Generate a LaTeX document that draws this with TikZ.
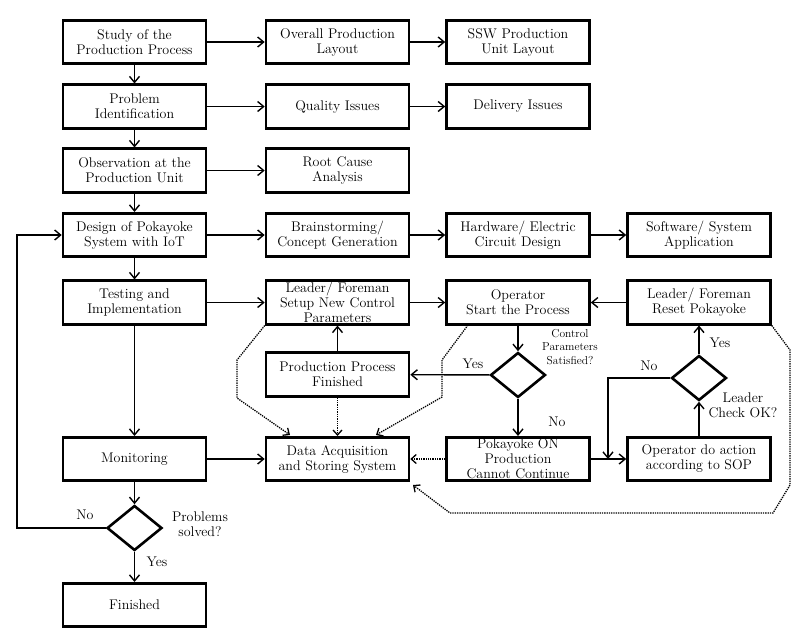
\documentclass[tikz,border=0pt]{standalone}
\usetikzlibrary{arrows.meta,shapes.geometric}
\begin{document}
\begin{tikzpicture}[x=1pt,y=-1pt,
 box/.style={draw, line width=2.6pt, minimum width=143pt, minimum height=43.5pt, align=center, inner sep=0.5pt, font=\fontsize{14}{15}\selectfont},
 dia/.style={draw, diamond, line width=2.6pt, minimum width=55pt, minimum height=45pt, inner sep=0pt},
 arr/.style={line width=1.4pt, -{Straight Barb[length=6pt,width=10pt]}},
 dot/.style={line width=1.3pt, densely dotted, -{Straight Barb[length=5pt,width=9pt]}},
 lab/.style={font=\fontsize{14}{15}\selectfont, inner sep=0pt, align=center},
 slab/.style={font=\fontsize{11.5}{13.5}\selectfont, inner sep=0pt, align=center}]
\useasboundingbox (0,0) rectangle (804,643);
% boxes
\node[box] (s1) at (134.5,42) {Study of the\\Production Process};
\node[box] (opl) at (337.5,42) {Overall Production\\Layout};
\node[box] (ssw) at (518,42) {SSW Production\\Unit Layout};
\node[box] (pi) at (134.5,106.5) {Problem\\Identification};
\node[box] (qi) at (337.5,106.5) {Quality Issues};
\node[box] (di) at (518,106.5) {Delivery Issues};
\node[box] (obs) at (134.5,170.5) {Observation at the\\Production Unit};
\node[box] (rca) at (337.5,170.5) {Root Cause\\Analysis};
\node[box] (des) at (134.5,235) {Design of Pokayoke\\System with IoT};
\node[box] (bs) at (337.5,235) {Brainstorming/\\Concept Generation};
\node[box] (hw) at (518,235) {Hardware/ Electric\\Circuit Design};
\node[box] (sw) at (699,235) {Software/ System\\Application};
\node[box] (tst) at (134.5,302.5) {Testing and\\Implementation};
\node[box] (ls) at (337.5,302.5) {Leader/ Foreman\\Setup New Control\\Parameters};
\node[box] (os) at (518,302.5) {Operator\\Start the Process};
\node[box] (lr) at (699,302.5) {Leader/ Foreman\\Reset Pokayoke};
\node[box] (pp) at (337.5,374.5) {Production Process\\Finished};
\node[dia] (cp) at (518,375) {};
\node[dia] (lc) at (699,378) {};
\node[box] (mon) at (134.5,459) {Monitoring};
\node[box] (das) at (337.5,459) {Data Acquisition\\and Storing System};
\node[box] (pk) at (518,459) {Pokayoke ON\\Production\\Cannot Continue};
\node[box] (oda) at (699,459) {Operator do action\\according to SOP};
\node[dia] (ps) at (134.5,528) {};
\node[box] (fin) at (134.5,605) {Finished};
% coordinates
\coordinate (nojoin) at (608,459);
\coordinate (loopx) at (17,528);
\coordinate (a1) at (237,360);
\coordinate (a2) at (237,398);
\coordinate (a3) at (290,435);
\coordinate (b0) at (468,325);
\coordinate (b1) at (442,360);
\coordinate (b2) at (442,397);
\coordinate (b3) at (376,435);
\coordinate (c1) at (790,350);
\coordinate (c2) at (790,485);
\coordinate (c3) at (773,513);
\coordinate (c4) at (450,513);
\coordinate (c5) at (413,485);
% solid arrows
\draw[arr] (s1) -- (opl);
\draw[arr] (opl) -- (ssw);
\draw[arr] (s1) -- (pi);
\draw[arr] (pi) -- (qi);
\draw[arr] (qi) -- (di);
\draw[arr] (pi) -- (obs);
\draw[arr] (obs) -- (rca);
\draw[arr] (obs) -- (des);
\draw[arr] (des) -- (bs);
\draw[arr] (bs) -- (hw);
\draw[arr] (hw) -- (sw);
\draw[arr] (des) -- (tst);
\draw[arr] (tst) -- (ls);
\draw[arr] (ls) -- (os);
\draw[arr] (lr) -- (os);
\draw[arr] (pp) -- (ls);
\draw[arr] (os) -- (cp);
\draw[arr] (cp) -- (pp);
\draw[arr] (cp) -- (pk);
\draw[arr] (pk) -- (oda);
\draw[arr] (oda) -- (lc);
\draw[arr] (lc) -- (lr);
\draw[arr] (lc.west) -| (nojoin);
\draw[arr] (tst) -- (mon);
\draw[arr] (mon) -- (das);
\draw[arr] (mon) -- (ps);
\draw[arr] (ps) -- (fin);
\draw[arr] (ps.west) -- (loopx) |- (des.west);
% dotted arrows
\draw[dot] (pk) -- (das);
\draw[dot] (pp) -- (das);
\draw[dot] (ls.south west) -- (a1) -- (a2) -- (a3);
\draw[dot] (b0) -- (b1) -- (b2) -- (b3);
\draw[dot] (lr.south east) -- (c1) -- (c2) -- (c3) -- (c4) -- (c5);
% labels
\node[lab] (l1) at (85,515) {No};
\node[lab] (l2) at (200,524.5) {Problems\\solved?};
\node[lab] (l3) at (157,562) {Yes};
\node[slab] (l4) at (570,347) {Control\\Parameters\\Satisfied?};
\node[lab] (l5) at (473,364) {Yes};
\node[lab] (l6) at (557,422) {No};
\node[lab] (l7) at (649,366) {No};
\node[lab] (l8) at (720,343) {Yes};
\node[lab] (l9) at (743,405.5) {Leader\\Check OK?};
\end{tikzpicture}
\end{document}
